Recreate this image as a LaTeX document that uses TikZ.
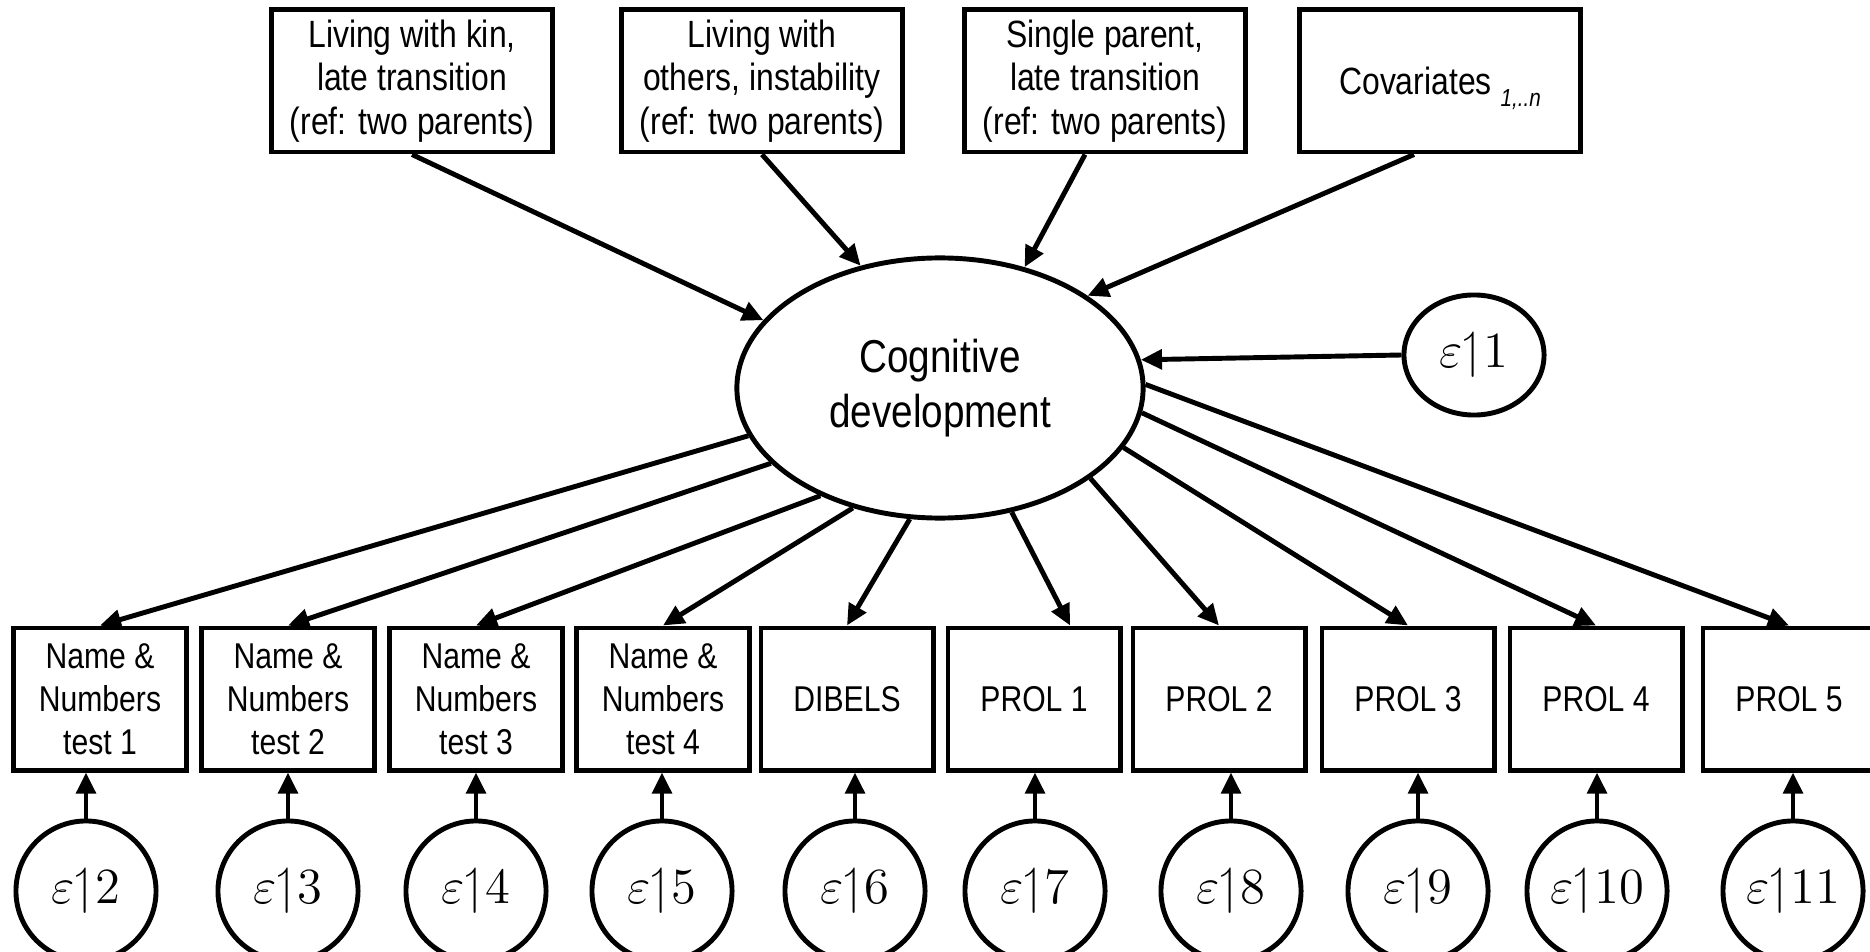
\documentclass[tikz,border=0pt]{standalone}
\usepackage{amsmath}
\usepackage{amssymb}
\usepackage{fontspec}
\setmainfont[FakeStretch=0.84]{Liberation Sans}
\usetikzlibrary{arrows.meta,shapes.geometric}

\tikzset{
  obs/.style={rectangle,draw,line width=1.4pt,align=center,inner sep=0pt,
    minimum width=1.72cm,minimum height=1.42cm,font=\fontsize{10.2}{12.2}\selectfont},
  pred/.style={obs,minimum width=2.8cm,font=\fontsize{10.8}{12.4}\selectfont},
  lat/.style={ellipse,draw,line width=1.4pt,inner sep=0pt,align=center,
    minimum width=4.06cm,minimum height=2.6cm,font=\fontsize{13.1}{15.6}\selectfont},
  err/.style={ellipse,draw,line width=1.4pt,inner sep=0pt,
    minimum width=1.4cm,minimum height=1.4cm,font=\fontsize{14.5}{16}\selectfont},
  arr/.style={-{Triangle[length=6pt,width=5.5pt]},line width=1.4pt}
}
\newcommand{\eps}[1]{${\varepsilon}{\upharpoonleft}{#1}$}

\begin{document}
\begin{tikzpicture}[x=0.01cm,y=-0.01cm]
  \useasboundingbox (0,0) rectangle (1870,952);

  % predictors
  \node[pred] (kin) at (412,81)  {Living with kin,\\late transition\\(ref: two parents)};
  \node[pred] (oth) at (762,81)  {Living with\\others, instability\\(ref: two parents)};
  \node[pred] (sin) at (1105,81) {Single parent,\\late transition\\(ref: two parents)};
  \node[pred] (cov) at (1440,81) {Covariates {\fontsize{7}{8}\itshape\smash{\raisebox{-3.5pt}{1,..n}}}};

  % latent factor
  \node[lat] (cog) at (940,388) {Cognitive\\development};
  \node[err,minimum height=1.2cm] (e1) at (1474,355) {\eps{1}};

  % indicators
  \node[obs] (n1)  at (100,699)  {Name \&\\Numbers\\test 1};
  \node[obs] (n2)  at (288,699)  {Name \&\\Numbers\\test 2};
  \node[obs] (n3)  at (476,699)  {Name \&\\Numbers\\test 3};
  \node[obs] (n4)  at (663,699)  {Name \&\\Numbers\\test 4};
  \node[obs] (dib) at (847,699)  {DIBELS};
  \node[obs] (p1)  at (1034,699) {PROL 1};
  \node[obs] (p2)  at (1219,699) {PROL 2};
  \node[obs] (p3)  at (1408,699) {PROL 3};
  \node[obs] (p4)  at (1596,699) {PROL 4};
  \node[obs] (p5)  at (1789,699) {PROL 5};

  % residuals
  \node[err] (e2)  at (86,891)   {\eps{2}};
  \node[err] (e3)  at (288,891)  {\eps{3}};
  \node[err] (e4)  at (476,891)  {\eps{4}};
  \node[err] (e5)  at (662,891)  {\eps{5}};
  \node[err] (e6)  at (855,891)  {\eps{6}};
  \node[err] (e7)  at (1035,891) {\eps{7}};
  \node[err] (e8)  at (1231,891) {\eps{8}};
  \node[err] (e9)  at (1418,891) {\eps{9}};
  \node[err] (e10) at (1597,891) {\eps{10}};
  \node[err] (e11) at (1793,891) {\eps{11}};

  % paths into the factor
  \draw[arr] (kin.south) -- (cog.159.7);
  \draw[arr] (oth.south) -- (cog.123.6);
  \draw[arr] ([xshift=-0.2cm]sin.south) -- (cog.55.8);
  \draw[arr] ([xshift=-0.26cm]cov.south) -- (cog.32.1);
  \draw[arr] (e1.west) -- (cog.8.5);

  % loadings
  \foreach \ang/\to in {194.3/n1, 204/n2, 222/n3, 234.5/n4, 257.8/dib,
                        329.4/p2, 342.9/p3, 353.8/p4, 1.7/p5}
    \draw[arr] (cog.\ang) -- (\to.north);
  \draw[arr] (cog.300.5) -- ([xshift=0.36cm]p1.north);

  % residual arrows
  \foreach \from/\to in {e2/n1, e3/n2, e4/n3, e5/n4, e6/dib,
                         e7/p1, e8/p2, e9/p3, e10/p4, e11/p5}
    \draw[arr] (\from.north) -- (\from.north |- \to.south);

\end{tikzpicture}
\end{document}
